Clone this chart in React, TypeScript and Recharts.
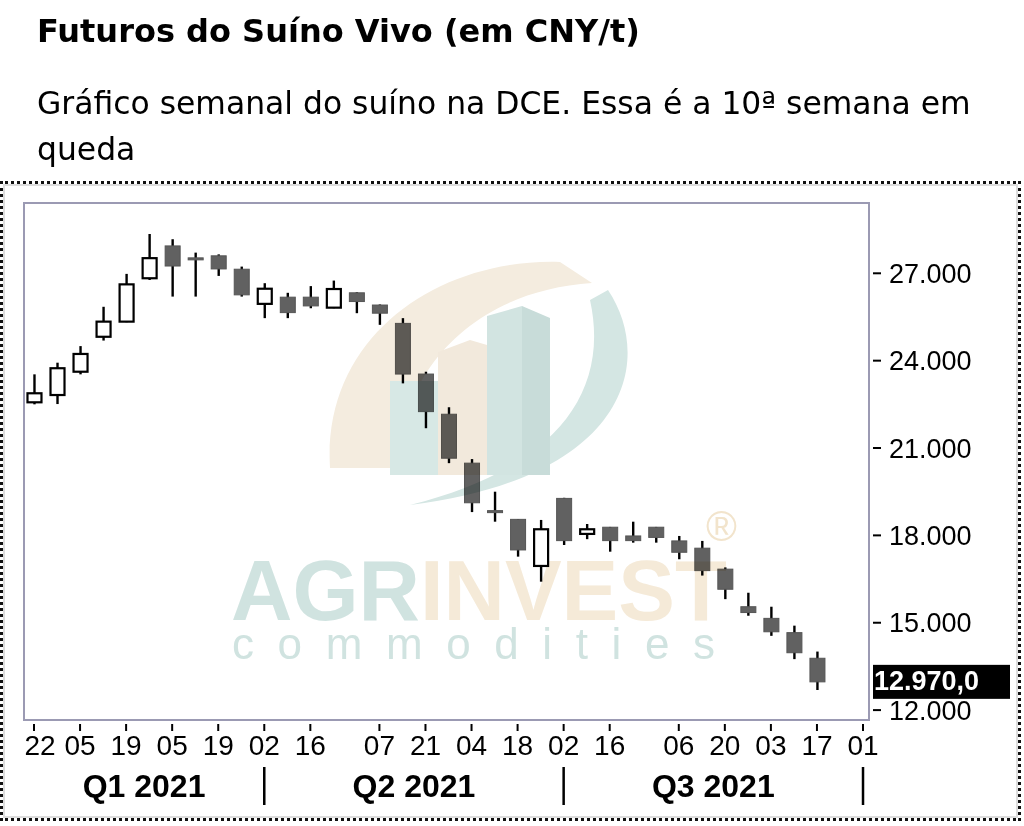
import { ComposedChart, Bar, XAxis, YAxis, ReferenceArea } from "recharts";

// weekly candles, Fridays from 22/01/2021 to 17/09/2021
const weeks = [
  "22/01", "29/01", "05/02", "12/02", "19/02", "26/02", "05/03", "12/03", "19/03", "26/03",
  "02/04", "09/04", "16/04", "23/04", "30/04", "07/05", "14/05", "21/05", "28/05", "04/06",
  "11/06", "18/06", "25/06", "02/07", "09/07", "16/07", "23/07", "30/07", "06/08", "13/08",
  "20/08", "27/08", "03/09", "10/09", "17/09",
];
const opens = [
  22570, 22820, 23620, 24820, 25340, 26830, 27940, 27530, 27600, 27140,
  25950, 26180, 26180, 25820, 26330, 25910, 25280, 23540, 22160, 20480,
  18850, 18550, 16950, 19270, 18050, 18280, 17980, 18280, 17810, 17560,
  16840, 15550, 15150, 14660, 13780,
];
const highs = [
  23530, 23930, 24500, 25850, 26980, 28350, 28170, 27710, 27650, 27230,
  26660, 26330, 26560, 26750, 26350, 25930, 25460, 23620, 22400, 20620,
  19500, 18560, 18530, 19290, 18390, 18290, 18470, 18290, 17980, 17810,
  16900, 16030, 15550, 14900, 14010,
];
const lows = [
  22500, 22510, 23530, 24690, 25320, 26770, 26200, 26200, 26910, 26200,
  25460, 25460, 25800, 25800, 25630, 25230, 23220, 21680, 20480, 18800,
  18470, 17270, 16410, 17670, 17870, 17440, 17750, 17750, 17180, 16620,
  15810, 15240, 14550, 13750, 12690,
];
const closes = [
  22880, 23740, 24230, 25340, 26620, 27520, 27250, 27490, 27150, 26260,
  26470, 25650, 25880, 26460, 26030, 25630, 23540, 22250, 20650, 19120,
  18830, 17500, 18210, 17820, 18210, 17820, 17820, 17930, 17420, 16790,
  16150, 15350, 14690, 13970, 12970,
];

// x axis: week index (0 = 22/01)
const tickIdx = [0, 2, 4, 6, 8, 10, 12, 15, 17, 19, 21, 23, 25, 28, 30, 32, 34, 36];
const tickLabels = ["22", "05", "19", "05", "19", "02", "16", "07", "21", "04", "18", "02", "16", "06", "20", "03", "17", "01"];
const quarterTicks = [4.78, 10, 16.5, 23, 29.5, 36];
const quarterLabels = ["Q1 2021", "|", "Q2 2021", "|", "Q3 2021", "|"];
const yTicks = [12000, 15000, 18000, 21000, 24000, 27000];
const lastClose = closes[closes.length - 1];

const data = weeks.map((w, i) => ({
  i,
  week: w,
  open: opens[i],
  high: highs[i],
  low: lows[i],
  close: closes[i],
}));

const X_DOMAIN: [number, number] = [-0.434, 36.26];
const Y_DOMAIN: [number, number] = [11660, 29414];
const AXIS_FONT = "'Liberation Sans', Arial, sans-serif";

const fmt = (v: number) => String(v).replace(/\B(?=(\d{3})+(?!\d))/g, ".");

function Candle(props: any) {
  const { x, y, width, height, payload } = props;
  const { open, close, high, low } = payload;
  const up = close >= open;
  const top = Math.min(y, y + height);
  const ratio = Math.abs(height) / (high - low);
  const yv = (v: number) => top + (high - v) * ratio;
  const cx = x + width / 2;
  const bTop = yv(Math.max(open, close));
  const bBot = yv(Math.min(open, close));
  const bh = Math.max(bBot - bTop, 2);
  return (
    <g>
      <line x1={cx} x2={cx} y1={yv(high)} y2={yv(low)} stroke="#000" strokeWidth={2.4} />
      {up ? (
        <rect x={x + 1} y={bTop} width={width - 2} height={bh} fill="#fff" stroke="#000" strokeWidth={2.2} />
      ) : (
        <rect x={x + 0.5} y={bTop} width={width - 1} height={bh} fill="#616161" stroke="#555" strokeWidth={1} />
      )}
    </g>
  );
}

function DateTick({ x, y, payload }: any) {
  const k = tickIdx.indexOf(payload.value);
  return (
    <g>
      <line x1={x} x2={x} y1={y + 4} y2={y + 11} stroke="#000" strokeWidth={2} />
      <text x={k === 0 ? x + 6 : x} y={y + 35} textAnchor="middle" fontSize={28} fontFamily={AXIS_FONT} fill="#000">
        {tickLabels[k]}
      </text>
    </g>
  );
}

function QuarterTick({ x, y, payload }: any) {
  const k = quarterTicks.indexOf(payload.value);
  const label = quarterLabels[k];
  if (label === "|") {
    return <line x1={x} x2={x} y1={y - 3} y2={y + 35} stroke="#000" strokeWidth={2.5} />;
  }
  return (
    <text x={x} y={y + 27} textAnchor="middle" fontSize={32} fontWeight="bold" fontFamily={AXIS_FONT} fill="#000">
      {label}
    </text>
  );
}

function PriceTick({ x, y, payload }: any) {
  if (payload.value === lastClose) {
    return (
      <g>
        <rect x={x + 4} y={y - 17} width={137} height={34} fill="#000" />
        <text x={x + 5} y={y + 8} fontSize={27} fontWeight="bold" fontFamily={AXIS_FONT} fill="#fff">
          {fmt(lastClose) + ",0"}
        </text>
      </g>
    );
  }
  return (
    <g>
      <line x1={x + 4} x2={x + 12} y1={y} y2={y} stroke="#000" strokeWidth={2} />
      <text x={x + 20} y={y + 9.5} fontSize={27} fontFamily={AXIS_FONT} fill="#000">
        {fmt(payload.value)}
      </text>
    </g>
  );
}

function Watermark() {
  return (
    <svg
      width={1024}
      height={826}
      style={{ position: "absolute", left: 0, top: 0, pointerEvents: "none", mixBlendMode: "multiply" }}
    >
      {/* beige swoosh */}
      <path d="M 330 468 C 322 335, 440 258, 560 262 L 592 283 C 482 290, 402 362, 397 468 Z" fill="#f4ecdf" />
      {/* teal swoosh */}
      <path d="M 608 290 C 655 360, 628 478, 410 505 C 545 472, 612 400, 590 300 Z" fill="#d4e6e3" />
      {/* buildings */}
      <rect x={390} y={381} width={48} height={94} fill="#d7e8e5" />
      <path d="M 438 352 L 470 340 L 487 345 L 487 475 L 438 475 Z" fill="#f2e9dc" />
      <path d="M 487 316 L 522 306 L 522 475 L 487 475 Z" fill="#d2e4e1" />
      <path d="M 522 306 L 550 318 L 550 475 L 522 475 Z" fill="#c8dcd9" />
      <text x={231} y={620} fontSize={85} fontWeight="bold" fontFamily={AXIS_FONT}>
        <tspan fill="#d0e3e0">AGR</tspan>
        <tspan fill="#f5ead8">INVEST</tspan>
      </text>
      <text x={232} y={659} fontSize={44} fontFamily={AXIS_FONT} fill="#d0e3e0" textLength={483} lengthAdjust="spacing">
        commodities
      </text>
      <text x={706} y={541} fontSize={42} fontFamily={AXIS_FONT} fill="#f2e4cc">
        ®
      </text>
    </svg>
  );
}

export default function App() {
  return (
    <div style={{ position: "absolute", left: 0, top: 0, width: 1024, height: 826, background: "#fff", overflow: "hidden" }}>
      <div
        style={{
          position: "absolute",
          left: 37,
          top: 12,
          fontFamily: "'DejaVu Sans', sans-serif",
          fontWeight: "bold",
          fontSize: 32,
          color: "#000",
          whiteSpace: "nowrap",
        }}
      >
        Futuros do Suíno Vivo (em CNY/t)
      </div>
      <div
        style={{
          position: "absolute",
          left: 37,
          top: 80,
          width: 960,
          fontFamily: "'DejaVu Sans', sans-serif",
          fontSize: 31.4,
          lineHeight: "46px",
          color: "#000",
        }}
      >
        Gráfico semanal do suíno na DCE. Essa é a 10ª semana em queda
      </div>
      <div
        style={{
          position: "absolute",
          left: 0,
          top: 181,
          width: 1015,
          height: 634,
          border: "3px dotted #111",
          boxShadow: "inset 0 0 0 2px #ddd",
        }}
      />
      <div style={{ position: "absolute", left: 0, top: 0 }}>
        <ComposedChart width={1024} height={826} data={data} margin={{ top: 203, right: 0, left: 24, bottom: 6 }}>
          <XAxis
            xAxisId="d"
            type="number"
            dataKey="i"
            domain={X_DOMAIN}
            allowDataOverflow
            ticks={tickIdx}
            interval={0}
            tick={<DateTick />}
            axisLine={false}
            tickLine={false}
            tickSize={0}
            tickMargin={0}
            height={50}
          />
          <XAxis
            xAxisId="q"
            type="number"
            dataKey="i"
            domain={X_DOMAIN}
            allowDataOverflow
            ticks={quarterTicks}
            interval={0}
            tick={<QuarterTick />}
            axisLine={false}
            tickLine={false}
            tickSize={0}
            tickMargin={0}
            height={50}
          />
          <YAxis
            orientation="right"
            type="number"
            domain={Y_DOMAIN}
            allowDataOverflow
            ticks={[...yTicks, lastClose]}
            interval={0}
            tick={<PriceTick />}
            axisLine={false}
            tickLine={false}
            tickSize={0}
            tickMargin={0}
            width={155}
          />
          <ReferenceArea
            xAxisId="d"
            x1={X_DOMAIN[0]}
            x2={X_DOMAIN[1]}
            y1={Y_DOMAIN[0]}
            y2={Y_DOMAIN[1]}
            fill="none"
            stroke="#9b9ab3"
            strokeWidth={2}
            ifOverflow="visible"
          />
          <Bar
            xAxisId="d"
            dataKey={(d: any) => [d.low, d.high]}
            barSize={16}
            shape={<Candle />}
            isAnimationActive={false}
          />
        </ComposedChart>
      </div>
      <Watermark />
    </div>
  );
}
